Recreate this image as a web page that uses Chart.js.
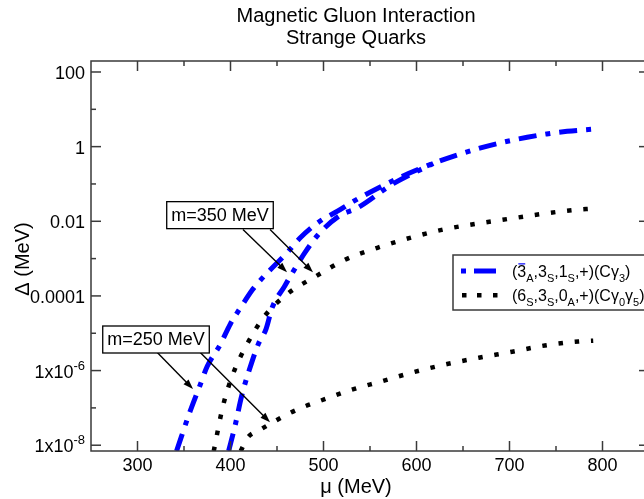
<!DOCTYPE html>
<html>
<head>
<meta charset="utf-8">
<script src="https://cdn.jsdelivr.net/npm/chart.js@4"></script>
<style>
  html, body { margin: 0; padding: 0; background: #fff; overflow: hidden; }
</style>
</head>
<body>
<canvas id="myChart" width="652" height="499"></canvas>
<script>
// curves (mu in MeV, delta in MeV)
const muBlueA = [342, 356, 367, 375, 389, 400, 412, 423, 432, 442, 461, 475, 496, 515, 532, 579, 618, 644, 668, 690, 719, 740, 762, 790];
const deltaBlueA = [7.0e-9, 7.4e-8, 3.9e-7, 1.3e-6, 5.0e-6, 1.8e-5, 5.4e-5, 1.4e-4, 2.6e-4, 4.8e-4, 1.45e-3, 3.6e-3, 0.010, 0.0186, 0.034, 0.138, 0.355, 0.60, 0.91, 1.26, 1.78, 2.19, 2.57, 2.95];

const muBlueB = [398, 405, 412, 420, 430, 438, 445, 458, 470, 480, 494, 518, 536, 575, 618];
const deltaBlueB = [7.0e-9, 3.4e-8, 2.1e-7, 1.0e-6, 5.2e-6, 1.26e-5, 5.0e-5, 1.8e-4, 5.8e-4, 1.45e-3, 4.3e-3, 0.0145, 0.0224, 0.102, 0.355];

const muDotA = [382, 392, 403, 418, 437, 462, 493, 523, 558, 593, 627, 663, 698, 733, 768, 790];
const deltaDotA = [7.0e-9, 1.15e-7, 8.5e-7, 5.2e-6, 2.95e-5, 1.17e-4, 3.5e-4, 9.3e-4, 1.95e-3, 3.6e-3, 5.9e-3, 8.5e-3, 0.0115, 0.0155, 0.020, 0.022];

const muDotB = [411, 418, 432, 447, 463, 478, 495, 528, 563, 597, 633, 667, 703, 738, 774, 790];
const deltaDotB = [7.0e-9, 1.55e-8, 2.6e-8, 4.3e-8, 7.1e-8, 1.05e-7, 1.5e-7, 2.95e-7, 5.2e-7, 9.1e-7, 1.5e-6, 2.2e-6, 3.2e-6, 4.7e-6, 6.0e-6, 6.3e-6];

// ticks
const xMajor = [300, 400, 500, 600, 700, 800];
const xMinor = [350, 450, 550, 650, 750];
const yMajor = [1e-8, 1e-6, 1e-4, 1e-2, 1, 100];
const yMajorText = ['1x10', '1x10', '0.0001', '0.01', '1', '100'];
const yMajorExp = ['-8', '-6', '', '', '', ''];
const yMinor = [1e-7, 1e-5, 1e-3, 0.1, 10];

// annotations (data units)
const noteText = ['m=350 MeV', 'm=250 MeV'];
const noteMu = [388.7, 319.9];
const noteDelta = [0.0146, 6.8e-6];
const arrowFromMu = [413.4, 442.5, 321, 367.2];
const arrowFromDelta = [6.0e-3, 6.0e-3, 3.1e-6, 3.1e-6];
const arrowToMu = [460.8, 488.7, 359.7, 442.5];
const arrowToDelta = [4.3e-4, 4.3e-4, 3.2e-7, 4.1e-8];

const FONT = '"Liberation Sans", Arial, Helvetica, sans-serif';

const pts = (xs, ys) => xs.map((v, i) => ({ x: v, y: ys[i] }));

// text with subscripts and overline
function drawRich(c, x, y, parts, size) {
  c.textBaseline = 'alphabetic';
  c.textAlign = 'left';
  parts.forEach(p => {
    const sub = p[1] === 'sub';
    c.font = (sub ? Math.round(size * 0.7) : size) + 'px ' + FONT;
    const w = c.measureText(p[0]).width;
    c.fillText(p[0], x, y + (sub ? size * 0.3 : 0));
    if (p[1] === 'bar') {
      c.lineWidth = 1.2;
      c.beginPath();
      c.moveTo(x + 1, y - size * 0.82);
      c.lineTo(x + w - 1, y - size * 0.82);
      c.stroke();
    }
    x += w;
  });
}

const legendItems = [
  [['(', ''], ['3', 'bar'], ['A', 'sub'], [',3', ''], ['S', 'sub'], [',1', ''], ['S', 'sub'], [',+)(C\u03b3', ''], ['3', 'sub'], [')', '']],
  [['(6', ''], ['S', 'sub'], [',3', ''], ['S', 'sub'], [',0', ''], ['A', 'sub'], [',+)(C\u03b3', ''], ['0', 'sub'], ['\u03b3', ''], ['5', 'sub'], [')', '']]
];

const decor = {
  id: 'decor',
  afterDraw(chart) {
    const c = chart.ctx, sx = chart.scales.x, sy = chart.scales.y, a = chart.chartArea;
    const seg = (x1, y1, x2, y2) => { c.beginPath(); c.moveTo(x1, y1); c.lineTo(x2, y2); c.stroke(); };
    c.save();

    // frame + inward ticks
    c.strokeStyle = '#3a3a3a';
    c.lineWidth = 1.5;
    c.strokeRect(a.left, a.top, a.right - a.left, a.bottom - a.top);
    xMajor.forEach(v => { const p = sx.getPixelForValue(v); seg(p, a.bottom, p, a.bottom - 10); seg(p, a.top, p, a.top + 10); });
    xMinor.forEach(v => { const p = sx.getPixelForValue(v); seg(p, a.bottom, p, a.bottom - 5); seg(p, a.top, p, a.top + 5); });
    yMajor.forEach(v => { const p = sy.getPixelForValue(v); seg(a.left, p, a.left + 10, p); seg(a.right, p, a.right - 10, p); });
    yMinor.forEach(v => { const p = sy.getPixelForValue(v); seg(a.left, p, a.left + 5, p); seg(a.right, p, a.right - 5, p); });

    // tick labels
    c.fillStyle = '#000';
    c.font = '18px ' + FONT;
    c.textAlign = 'center';
    c.textBaseline = 'alphabetic';
    xMajor.forEach(v => c.fillText(String(v), sx.getPixelForValue(v), 471));
    yMajor.forEach((v, i) => {
      const p = sy.getPixelForValue(v);
      let right = a.left - 6;
      if (yMajorExp[i]) {
        c.font = '13px ' + FONT;
        c.textAlign = 'right';
        c.fillText(yMajorExp[i], right, p - 1);
        right -= c.measureText(yMajorExp[i]).width;
      }
      c.font = '18px ' + FONT;
      c.textAlign = 'right';
      c.fillText(yMajorText[i], right, p + 7);
    });

    // titles
    c.textAlign = 'center';
    c.font = '20px ' + FONT;
    c.fillText('Magnetic Gluon Interaction', 356, 22);
    c.fillText('Strange Quarks', 356, 44);
    c.fillText('\u03bc (MeV)', 356, 493);
    c.save();
    c.translate(29, 259);
    c.rotate(-Math.PI / 2);
    c.fillText('\u0394 (MeV)', 0, 0);
    c.restore();

    // arrows
    c.strokeStyle = '#000';
    c.fillStyle = '#000';
    c.lineWidth = 1.4;
    arrowFromMu.forEach((m, i) => {
      const x1 = sx.getPixelForValue(m), y1 = sy.getPixelForValue(arrowFromDelta[i]);
      const x2 = sx.getPixelForValue(arrowToMu[i]), y2 = sy.getPixelForValue(arrowToDelta[i]);
      const ang = Math.atan2(y2 - y1, x2 - x1);
      seg(x1, y1, x2 - 6 * Math.cos(ang), y2 - 6 * Math.sin(ang));
      c.beginPath();
      c.moveTo(x2, y2);
      c.lineTo(x2 - 10 * Math.cos(ang) + 3.5 * Math.sin(ang), y2 - 10 * Math.sin(ang) - 3.5 * Math.cos(ang));
      c.lineTo(x2 - 10 * Math.cos(ang) - 3.5 * Math.sin(ang), y2 - 10 * Math.sin(ang) + 3.5 * Math.cos(ang));
      c.closePath();
      c.fill();
    });

    // annotation boxes
    c.font = '18px ' + FONT;
    noteText.forEach((t, i) => {
      const cx = sx.getPixelForValue(noteMu[i]), cy = sy.getPixelForValue(noteDelta[i]);
      const w = c.measureText(t).width + 9, h = 27;
      c.fillStyle = '#fff';
      c.fillRect(cx - w / 2, cy - h / 2, w, h);
      c.strokeStyle = '#000';
      c.lineWidth = 1.3;
      c.strokeRect(cx - w / 2, cy - h / 2, w, h);
      c.fillStyle = '#000';
      c.textAlign = 'center';
      c.textBaseline = 'middle';
      c.fillText(t, cx, cy + 1);
    });

    // legend
    const lx = 453, ly = 255;
    c.fillStyle = '#fff';
    c.fillRect(lx, ly, 210, 55);
    c.strokeStyle = '#3a3a3a';
    c.lineWidth = 1.5;
    c.strokeRect(lx, ly, 210, 55);
    c.strokeStyle = '#0000ff';
    c.lineWidth = 5;
    seg(lx + 8, ly + 16, lx + 13, ly + 16);
    seg(lx + 21, ly + 16, lx + 43, ly + 16);
    c.fillStyle = '#000';
    [9, 24, 40].forEach(d => c.fillRect(lx + d, ly + 38, 4.5, 4.5));
    legendItems.forEach((parts, i) => drawRich(c, lx + 59, ly + 22 + i * 24, parts, 16));

    c.restore();
  }
};

const ctx = document.getElementById('myChart').getContext('2d');
new Chart(ctx, {
  type: 'scatter',
  data: {
    datasets: [
      { data: pts(muBlueA, deltaBlueA), borderColor: '#0000ff', borderWidth: 5, borderDash: [18, 9, 5, 9] },
      { data: pts(muBlueB, deltaBlueB), borderColor: '#0000ff', borderWidth: 5, borderDash: [18, 9, 5, 9] },
      { data: pts(muDotA, deltaDotA), borderColor: '#000', borderWidth: 4.5, borderDash: [4.5, 11.8] },
      { data: pts(muDotB, deltaDotB), borderColor: '#000', borderWidth: 4.5, borderDash: [4.5, 11.8] }
    ].map(d => Object.assign(d, { showLine: true, pointRadius: 0, cubicInterpolationMode: 'monotone', clip: 0 }))
  },
  options: {
    responsive: false,
    animation: false,
    layout: { padding: { left: 91, right: 3, top: 61, bottom: 48 } },
    plugins: { legend: { display: false }, tooltip: { enabled: false } },
    scales: {
      x: { type: 'linear', min: 250, max: 850, display: false },
      y: { type: 'logarithmic', min: 7.3e-9, max: 197, display: false }
    }
  },
  plugins: [decor]
});
</script>
</body>
</html>
